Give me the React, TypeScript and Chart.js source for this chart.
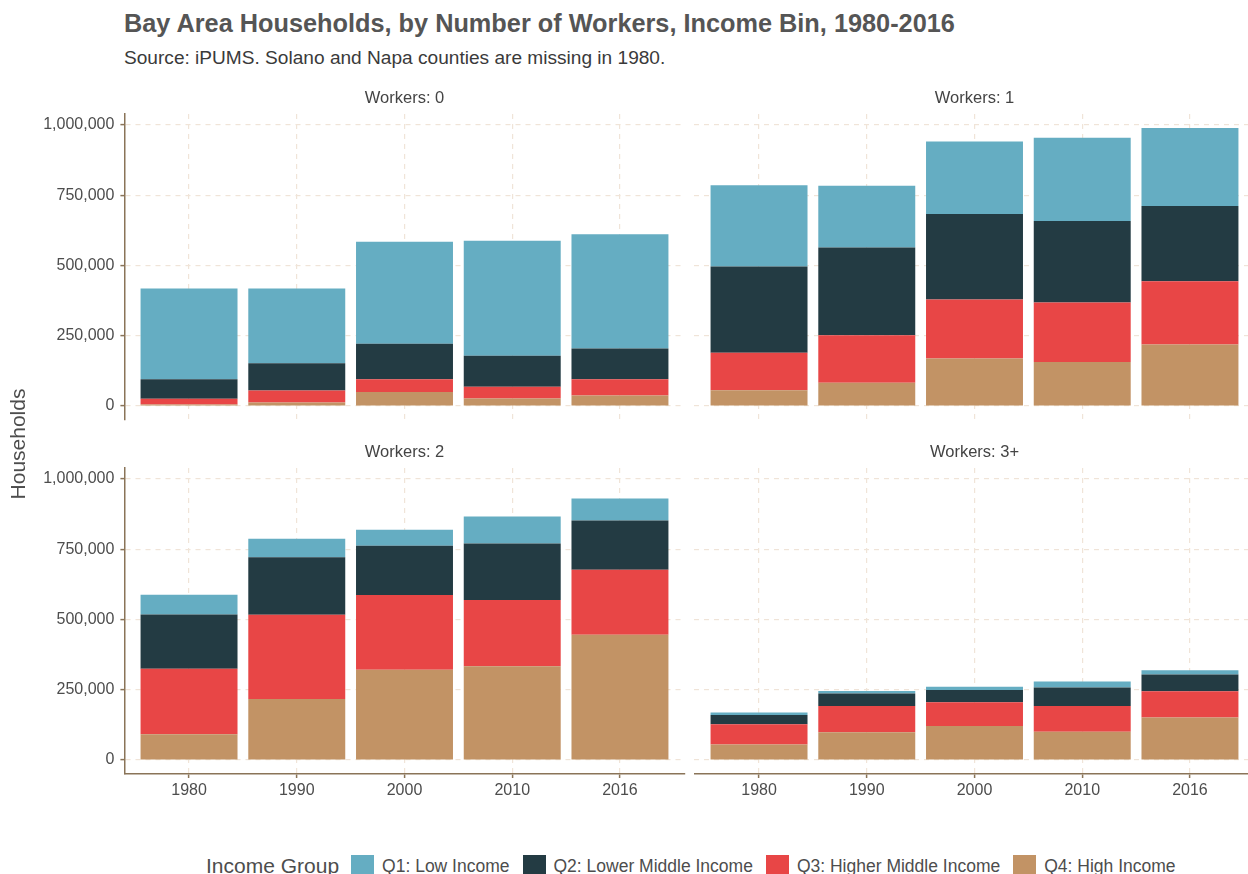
import React, { useEffect, useRef } from 'react';
import { Chart, registerables } from 'chart.js';

Chart.register(...registerables);

// ---------- data ----------
const years = ['1980', '1990', '2000', '2010', '2016'];
const groups = ['Q1: Low Income', 'Q2: Lower Middle Income', 'Q3: Higher Middle Income', 'Q4: High Income'];
const groupColors = ['#65ADC2', '#233B43', '#E84646', '#C29365'];
const facetTitles = ['Workers: 0', 'Workers: 1', 'Workers: 2', 'Workers: 3+'];
const yTickValues = [0, 250000, 500000, 750000, 1000000];

// Workers: 0
const w0Q1 = [323000, 266000, 362000, 409000, 406000];
const w0Q2 = [69000, 97000, 127000, 110000, 110000];
const w0Q3 = [20000, 42000, 45000, 42000, 57000];
const w0Q4 = [6000, 13000, 50000, 27000, 38000];
// Workers: 1
const w1Q1 = [289000, 219000, 258000, 296000, 278000];
const w1Q2 = [306000, 312000, 304000, 290000, 267000];
const w1Q3 = [134000, 169000, 210000, 211000, 225000];
const w1Q4 = [56000, 83000, 169000, 157000, 219000];
// Workers: 2
const w2Q1 = [70000, 66000, 57000, 96000, 78000];
const w2Q2 = [193000, 204000, 175000, 201000, 175000];
const w2Q3 = [233000, 300000, 266000, 235000, 231000];
const w2Q4 = [92000, 217000, 321000, 334000, 446000];
// Workers: 3+
const w3Q1 = [9000, 9000, 12000, 21000, 15000];
const w3Q2 = [33000, 45000, 43000, 66000, 59000];
const w3Q3 = [72000, 93000, 85000, 91000, 94000];
const w3Q4 = [55000, 99000, 121000, 101000, 151000];

const facets = [
  [w0Q1, w0Q2, w0Q3, w0Q4],
  [w1Q1, w1Q2, w1Q3, w1Q4],
  [w2Q1, w2Q2, w2Q3, w2Q4],
  [w3Q1, w3Q2, w3Q3, w3Q4],
];

// ---------- layout / style ----------
const FONT = '"Liberation Sans", Arial, "DejaVu Sans", sans-serif';
const AXIS_COLOR = '#8A7458';
const GRID_COLOR = '#F0E4D8';
const TICK_COLOR = '#4D4D4D';

const COLS = [
  { left: 124.4, right: 684.6, canvasLeft: 0, canvasWidth: 700 },
  { left: 694.4, right: 1254.6, canvasLeft: 684, canvasWidth: 581 },
];
const ROWS = [
  { top: 114, bottom: 420, padTop: 20, padBottom: 20, xAxisH: 0 },
  { top: 468, bottom: 774, padTop: 20, padBottom: 10, xAxisH: 40 },
];

const maxTotal = Math.max(
  ...facets.map((f) => Math.max(...years.map((_, i) => f.reduce((s, arr) => s + arr[i], 0))))
);
const yMin = -0.05 * maxTotal;
const yMax = maxTotal * 1.05;

function Facet({ index }: { index: number }) {
  const ref = useRef<HTMLCanvasElement | null>(null);
  const col = COLS[index % 2];
  const row = ROWS[Math.floor(index / 2)];
  const showY = index % 2 === 0;
  const showX = Math.floor(index / 2) === 1;
  const canvasTop = row.top - row.padTop;
  const canvasHeight = row.padTop + (row.bottom - row.top) + row.xAxisH + row.padBottom;

  useEffect(() => {
    if (!ref.current) return;
    const series = facets[index];
    // stack bottom to top: Q4, Q3, Q2, Q1
    const order = [3, 2, 1, 0];
    const datasets = order.map((g) => ({
      label: groups[g],
      data: series[g].map((v, i) => ({ x: i, y: v })),
      backgroundColor: groupColors[g],
      borderWidth: 0,
      categoryPercentage: 1,
      barPercentage: 0.9,
    }));
    const yAxisWidth = showY ? col.left - col.canvasLeft : 0;
    const chart = new Chart(ref.current, {
      type: 'bar',
      data: { datasets },
      options: {
        animation: false,
        responsive: false,
        maintainAspectRatio: false,
        layout: {
          padding: {
            left: showY ? 0 : col.left - col.canvasLeft,
            right: col.canvasLeft + col.canvasWidth - col.right,
            top: row.padTop,
            bottom: row.padBottom,
          },
        },
        plugins: { legend: { display: false }, tooltip: { enabled: false } },
        scales: {
          x: {
            type: 'linear',
            min: -0.6,
            max: years.length - 1 + 0.6,
            stacked: true,
            offset: false,
            afterBuildTicks: (axis: any) => {
              axis.ticks = years.map((_, i) => ({ value: i }));
            },
            afterFit: (axis: any) => {
              axis.height = row.xAxisH;
            },
            grid: {
              offset: false,
              color: GRID_COLOR,
              lineWidth: 1.2,
              drawTicks: showX,
              tickLength: 4,
              tickColor: AXIS_COLOR,
              tickWidth: 1.5,
            },
            border: { display: showX, color: AXIS_COLOR, width: 1.5, dash: [5, 5] },
            ticks: {
              display: showX,
              padding: 3,
              color: TICK_COLOR,
              autoSkip: false,
              maxRotation: 0,
              font: { family: FONT, size: 16 },
              callback: (v: any) => years[Math.round(Number(v))] ?? '',
            },
          },
          y: {
            type: 'linear',
            min: yMin,
            max: yMax,
            stacked: true,
            afterBuildTicks: (axis: any) => {
              axis.ticks = yTickValues.map((v) => ({ value: v }));
            },
            afterFit: (axis: any) => {
              axis.width = yAxisWidth;
            },
            grid: {
              offset: false,
              color: GRID_COLOR,
              lineWidth: 1.2,
              drawTicks: showY,
              tickLength: 4,
              tickColor: AXIS_COLOR,
              tickWidth: 1.5,
            },
            border: { display: showY, color: AXIS_COLOR, width: 1.5, dash: [5, 5] },
            ticks: {
              display: showY,
              padding: 6,
              color: TICK_COLOR,
              font: { family: FONT, size: 16 },
              callback: (v: any) => Number(v).toLocaleString('en-US'),
            },
          },
        },
      } as any,
    });
    return () => chart.destroy();
  }, [index]);

  return (
    <canvas
      ref={ref}
      width={col.canvasWidth}
      height={canvasHeight}
      style={{
        position: 'absolute',
        left: col.canvasLeft,
        top: canvasTop,
        width: col.canvasWidth,
        height: canvasHeight,
      }}
    />
  );
}

export default function App() {
  return (
    <div
      style={{
        position: 'fixed',
        left: 0,
        top: 0,
        width: 1248,
        height: 874,
        overflow: 'hidden',
        background: '#FFFFFF',
        fontFamily: FONT,
      }}
    >
      {[0, 1, 2, 3].map((i) => (
        <Facet key={i} index={i} />
      ))}
      <div
        style={{
          position: 'absolute',
          left: 124,
          top: 10.5,
          fontSize: 25.3,
          lineHeight: '25px',
          fontWeight: 'bold',
          color: '#555555',
          whiteSpace: 'nowrap',
        }}
      >
        Bay Area Households, by Number of Workers, Income Bin, 1980-2016
      </div>
      <div
        style={{
          position: 'absolute',
          left: 124,
          top: 47.5,
          fontSize: 19.1,
          lineHeight: '19px',
          color: '#3A3A3A',
          whiteSpace: 'nowrap',
        }}
      >
        Source: iPUMS. Solano and Napa counties are missing in 1980.
      </div>
      {facetTitles.map((t, i) => {
        const col = COLS[i % 2];
        const row = ROWS[Math.floor(i / 2)];
        const cx = (col.left + col.right) / 2;
        return (
          <div
            key={t}
            style={{
              position: 'absolute',
              left: cx - 100,
              width: 200,
              top: row.top - 25,
              fontSize: 16.5,
              lineHeight: '16.5px',
              textAlign: 'center',
              color: '#444444',
              whiteSpace: 'nowrap',
            }}
          >
            {t}
          </div>
        );
      })}
      <div
        style={{
          position: 'absolute',
          left: 18 - 100,
          top: 444 - 11,
          width: 200,
          height: 22,
          lineHeight: '22px',
          fontSize: 21,
          textAlign: 'center',
          color: '#4D4D4D',
          transform: 'rotate(-90deg)',
          whiteSpace: 'nowrap',
        }}
      >
        Households
      </div>
      <div
        style={{
          position: 'absolute',
          left: 206,
          top: 853,
          height: 26,
          display: 'flex',
          alignItems: 'center',
          whiteSpace: 'nowrap',
        }}
      >
        <span style={{ fontSize: 21, color: '#4D4D4D', marginRight: 12 }}>Income Group</span>
        {groups.map((g, i) => (
          <React.Fragment key={g}>
            <span
              style={{
                display: 'inline-block',
                width: 23,
                height: 23,
                background: groupColors[i],
                marginRight: 8,
              }}
            />
            <span style={{ fontSize: 17.5, color: '#4D4D4D', marginRight: 13 }}>{g}</span>
          </React.Fragment>
        ))}
      </div>
    </div>
  );
}
